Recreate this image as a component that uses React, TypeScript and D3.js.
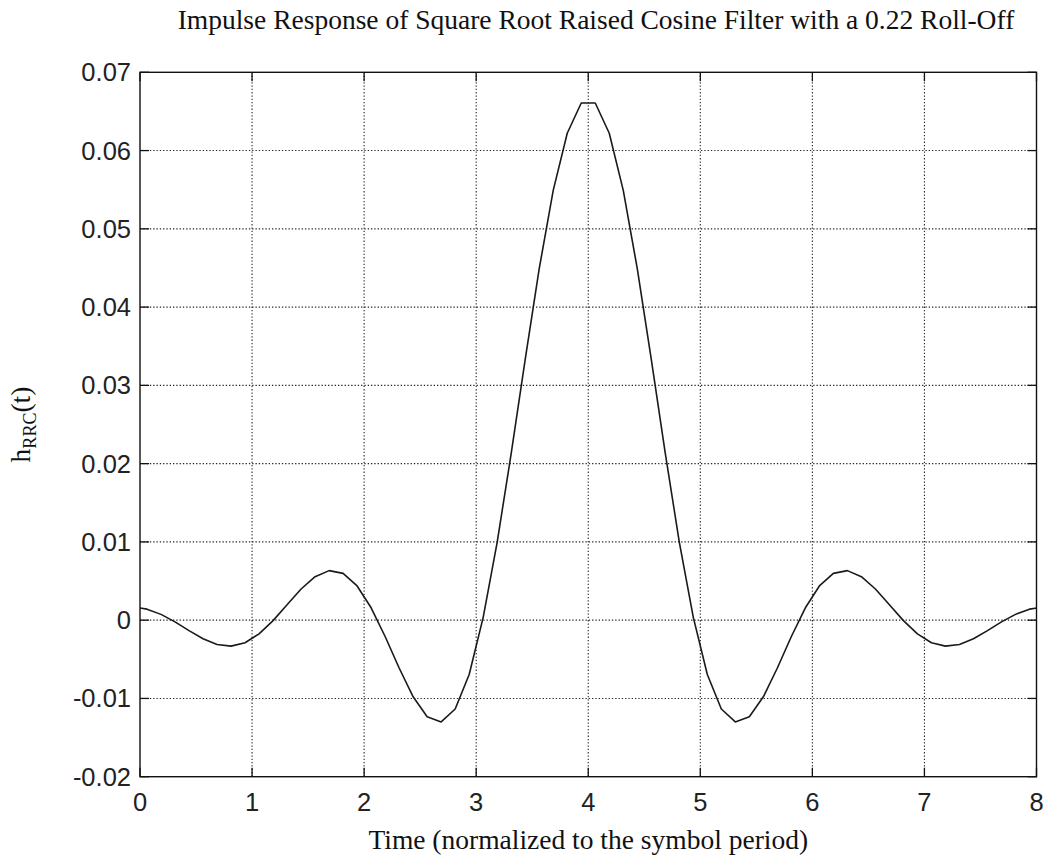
import React, { useRef, useEffect } from 'react';
import * as d3 from 'd3';

// sample instants (symbol periods) and filter output
const timeSamples = [
  -0.0625, 0.0625, 0.1875, 0.3125, 0.4375, 0.5625, 0.6875, 0.8125, 0.9375, 1.0625,
  1.1875, 1.3125, 1.4375, 1.5625, 1.6875, 1.8125, 1.9375, 2.0625, 2.1875, 2.3125,
  2.4375, 2.5625, 2.6875, 2.8125, 2.9375, 3.0625, 3.1875, 3.3125, 3.4375, 3.5625,
  3.6875, 3.8125, 3.9375, 4.0625, 4.1875, 4.3125, 4.4375, 4.5625, 4.6875, 4.8125,
  4.9375, 5.0625, 5.1875, 5.3125, 5.4375, 5.5625, 5.6875, 5.8125, 5.9375, 6.0625,
  6.1875, 6.3125, 6.4375, 6.5625, 6.6875, 6.8125, 6.9375, 7.0625, 7.1875, 7.3125,
  7.4375, 7.5625, 7.6875, 7.8125, 7.9375, 8.0625,
];

const responseValues = [
  0.00169, 0.00141, 0.00074, -0.00022, -0.00133, -0.00237, -0.0031, -0.00332, -0.00288, -0.00175,
  -0.00006, 0.00197, 0.00398, 0.00556, 0.00633, 0.00598, 0.00437, 0.00158, -0.00209, -0.00611,
  -0.00979, -0.01235, -0.013, -0.01135, -0.00695, 0.00036, 0.00998, 0.0213, 0.03333, 0.04491,
  0.05492, 0.06221, 0.06608, 0.06608, 0.06221, 0.05492, 0.04491, 0.03333, 0.0213, 0.00998,
  0.00036, -0.00695, -0.01135, -0.013, -0.01235, -0.00979, -0.00611, -0.00209, 0.00158, 0.00437,
  0.00598, 0.00633, 0.00556, 0.00398, 0.00197, -0.00006, -0.00175, -0.00288, -0.00332, -0.0031,
  -0.00237, -0.00133, -0.00022, 0.00074, 0.00141, 0.00169,
];

const xTicks = [0, 1, 2, 3, 4, 5, 6, 7, 8];
const xTickLabels = ['0', '1', '2', '3', '4', '5', '6', '7', '8'];
const yTicks = [-0.02, -0.01, 0, 0.01, 0.02, 0.03, 0.04, 0.05, 0.06, 0.07];
const yTickLabels = ['-0.02', '-0.01', '0', '0.01', '0.02', '0.03', '0.04', '0.05', '0.06', '0.07'];

const titleText = 'Impulse Response of Square Root Raised Cosine Filter with a 0.22 Roll-Off';
const xLabelText = 'Time (normalized to the symbol period)';

const App = () => {
  const svgRef = useRef<SVGSVGElement>(null);

  useEffect(() => {
    const svg = d3.select(svgRef.current);
    svg.selectAll('*').remove();

    const width = 1045;
    const height = 859;
    const margin = { top: 72.3, right: 8.5, bottom: 82.3, left: 140 };
    const innerW = width - margin.left - margin.right;
    const innerH = height - margin.top - margin.bottom;

    const x = d3.scaleLinear().domain([0, 8]).range([0, innerW]);
    const y = d3.scaleLinear().domain([-0.02, 0.07]).range([innerH, 0]);

    svg.append('rect').attr('width', width).attr('height', height).attr('fill', 'white');

    svg.append('defs').append('clipPath').attr('id', 'plot-clip')
      .append('rect').attr('width', innerW).attr('height', innerH);

    const g = svg.append('g').attr('transform', `translate(${margin.left},${margin.top})`);

    // dotted grid
    g.selectAll('.xgrid')
      .data(xTicks.slice(1, -1))
      .enter().append('line')
      .attr('x1', d => x(d)).attr('x2', d => x(d))
      .attr('y1', 0).attr('y2', innerH)
      .attr('stroke', '#222').attr('stroke-width', 1.1)
      .attr('stroke-dasharray', '1.3,2');

    g.selectAll('.ygrid')
      .data(yTicks.slice(1, -1))
      .enter().append('line')
      .attr('x1', 0).attr('x2', innerW)
      .attr('y1', d => y(d)).attr('y2', d => y(d))
      .attr('stroke', '#222').attr('stroke-width', 1.1)
      .attr('stroke-dasharray', '1.3,2');

    // inward ticks on all four sides
    const tl = 9;
    xTicks.forEach(t => {
      g.append('line').attr('x1', x(t)).attr('x2', x(t)).attr('y1', innerH).attr('y2', innerH - tl)
        .attr('stroke', '#111').attr('stroke-width', 1.3);
      g.append('line').attr('x1', x(t)).attr('x2', x(t)).attr('y1', 0).attr('y2', tl)
        .attr('stroke', '#111').attr('stroke-width', 1.3);
    });
    yTicks.forEach(v => {
      g.append('line').attr('x1', 0).attr('x2', tl).attr('y1', y(v)).attr('y2', y(v))
        .attr('stroke', '#111').attr('stroke-width', 1.3);
      g.append('line').attr('x1', innerW).attr('x2', innerW - tl).attr('y1', y(v)).attr('y2', y(v))
        .attr('stroke', '#111').attr('stroke-width', 1.3);
    });

    // curve
    const line = d3.line<number>()
      .x((d, i) => x(timeSamples[i]))
      .y(d => y(d));

    g.append('path')
      .datum(responseValues)
      .attr('clip-path', 'url(#plot-clip)')
      .attr('d', line)
      .attr('fill', 'none')
      .attr('stroke', '#1a1a1a')
      .attr('stroke-width', 1.6)
      .attr('stroke-linejoin', 'round');

    // box
    g.append('rect')
      .attr('width', innerW).attr('height', innerH)
      .attr('fill', 'none').attr('stroke', '#111').attr('stroke-width', 1.4);

    // tick labels
    g.selectAll('.xlab')
      .data(xTicks)
      .enter().append('text')
      .attr('x', d => x(d))
      .attr('y', innerH + 34.5)
      .attr('text-anchor', 'middle')
      .style('font-family', 'Liberation Sans, Arial, sans-serif')
      .style('font-size', '25.5px')
      .attr('fill', '#222')
      .text((d, i) => xTickLabels[i]);

    g.selectAll('.ylab')
      .data(yTicks)
      .enter().append('text')
      .attr('x', -9)
      .attr('y', d => y(d) + 9)
      .attr('text-anchor', 'end')
      .style('font-family', 'Liberation Sans, Arial, sans-serif')
      .style('font-size', '25.5px')
      .attr('fill', '#222')
      .text((d, i) => yTickLabels[i]);

    // title and axis labels
    svg.append('text')
      .attr('x', 596)
      .attr('y', 29)
      .attr('text-anchor', 'middle')
      .style('font-family', 'Liberation Serif, Times New Roman, serif')
      .style('font-size', '27.5px')
      .attr('fill', '#111')
      .text(titleText);

    svg.append('text')
      .attr('x', margin.left + innerW / 2)
      .attr('y', 849)
      .attr('text-anchor', 'middle')
      .style('font-family', 'Liberation Serif, Times New Roman, serif')
      .style('font-size', '27.5px')
      .attr('fill', '#111')
      .text(xLabelText);

    const yl = svg.append('text')
      .attr('transform', `translate(30,${margin.top + innerH / 2}) rotate(-90)`)
      .attr('text-anchor', 'middle')
      .style('font-family', 'Liberation Serif, Times New Roman, serif')
      .style('font-size', '27.5px')
      .attr('fill', '#111');
    yl.append('tspan').text('h');
    yl.append('tspan').attr('dy', 6).style('font-size', '18px').text('RRC');
    yl.append('tspan').attr('dy', -6).text('(t)');
  }, []);

  return (
    <svg
      ref={svgRef}
      width={1045}
      height={859}
      style={{ position: 'absolute', left: 0, top: 0 }}
    />
  );
};

export default App;
